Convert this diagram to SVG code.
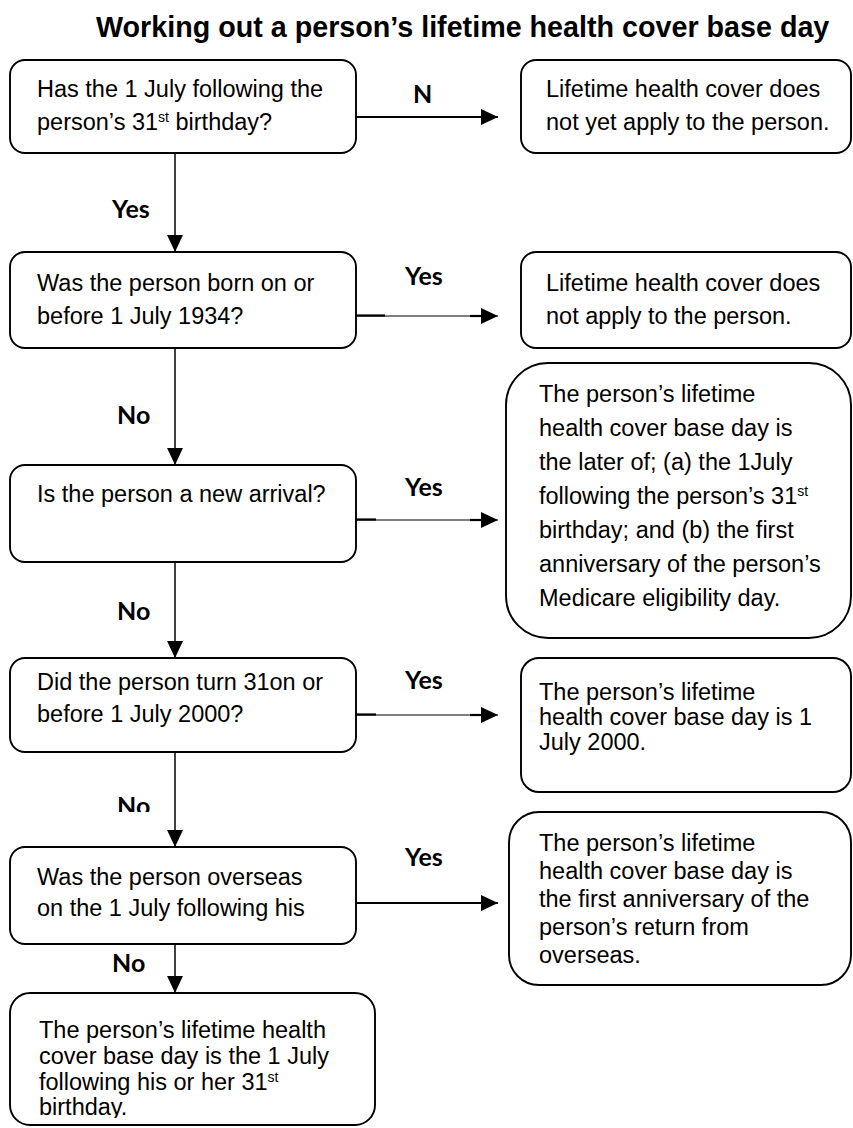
<svg xmlns="http://www.w3.org/2000/svg" width="853" height="1128" viewBox="0 0 853 1128">
<defs>
<style>
.box{fill:#fff;stroke:#000;stroke-width:1.9}
.t{font-family:"Liberation Sans",Arial,sans-serif;font-size:23.5px;fill:#000}
.sup{font-size:14px}
.lbl{font-family:Lato,"Open Sans",sans-serif;font-weight:bold;font-size:25px;fill:#000}
.title{font-family:"Liberation Sans",Arial,sans-serif;font-weight:bold;font-size:28.7px;fill:#000}
.c{stroke:#000;stroke-width:1.5;fill:none}
.thin{stroke:#000;stroke-width:1.2;fill:none}
.stub{stroke:#000;stroke-width:2.2;fill:none}
.thick{stroke:#000;stroke-width:2;fill:none}
</style>
<marker id="ah" markerUnits="userSpaceOnUse" markerWidth="17" markerHeight="17" viewBox="0 0 16 15" refX="16" refY="7.5" orient="auto"><path d="M0,0 L16,7.5 L0,15 Z" fill="#000"/></marker>
<clipPath id="clipBottom"><rect x="0" y="980" width="400" height="138"/></clipPath>
<clipPath id="clipNo"><rect x="100" y="780" width="60" height="32"/></clipPath>
</defs>
<rect width="853" height="1128" fill="#fff"/>
<text class="title" x="96" y="37">Working out a person’s lifetime health cover base day</text>

<g id="connectors">
<line class="thick" x1="356" y1="117" x2="498" y2="117" marker-end="url(#ah)"/>
<line class="c" x1="175" y1="153" x2="175" y2="252" marker-end="url(#ah)"/>
<line class="thin" x1="356" y1="316" x2="498" y2="316" marker-end="url(#ah)"/>
<line class="stub" x1="356" y1="315.5" x2="385" y2="315.5"/>
<line class="stub" x1="470" y1="316" x2="485" y2="316"/>
<line class="c" x1="175" y1="348" x2="175" y2="465" marker-end="url(#ah)"/>
<line class="thin" x1="356" y1="520" x2="498" y2="520" marker-end="url(#ah)"/>
<line class="stub" x1="356" y1="519.5" x2="376" y2="519.5"/>
<line class="stub" x1="470" y1="520" x2="485" y2="520"/>
<line class="c" x1="175" y1="562" x2="175" y2="658" marker-end="url(#ah)"/>
<line class="thin" x1="356" y1="715" x2="498" y2="715" marker-end="url(#ah)"/>
<line class="stub" x1="356" y1="714.5" x2="376" y2="714.5"/>
<line class="stub" x1="470" y1="715" x2="485" y2="715"/>
<line class="c" x1="175" y1="752" x2="175" y2="847" marker-end="url(#ah)"/>
<line class="thick" x1="356" y1="903" x2="498" y2="903" marker-end="url(#ah)"/>
<line class="c" x1="175" y1="944" x2="175" y2="993" marker-end="url(#ah)"/>
<text class="lbl" x="413" y="103">N</text>
<text class="lbl" x="112" y="218">Yes</text>
<text class="lbl" x="405" y="285">Yes</text>
<text class="lbl" x="117" y="424">No</text>
<text class="lbl" x="405" y="496">Yes</text>
<text class="lbl" x="117" y="620">No</text>
<text class="lbl" x="405" y="689">Yes</text>
<g clip-path="url(#clipNo)"><text class="lbl" x="117" y="815">No</text></g>
<text class="lbl" x="405" y="866">Yes</text>
<text class="lbl" x="112" y="972">No</text>
</g>

<g id="q1">
<rect class="box" x="10" y="60" width="346" height="93" rx="15"/>
<text class="t" x="37" y="97">Has the 1 July following the</text>
<text class="t" x="37" y="130">person’s 31<tspan class="sup" dy="-8">st</tspan><tspan dy="8"> birthday?</tspan></text>
</g>
<g id="r1">
<rect class="box" x="521" y="60" width="330" height="93" rx="15"/>
<text class="t" x="546" y="97">Lifetime health cover does</text>
<text class="t" x="546" y="130">not yet apply to the person.</text>
</g>

<g id="q2">
<rect class="box" x="10" y="252" width="346" height="96" rx="15"/>
<text class="t" x="37" y="291">Was the person born on or</text>
<text class="t" x="37" y="324">before 1 July 1934?</text>
</g>
<g id="r2">
<rect class="box" x="521" y="252" width="330" height="96" rx="15"/>
<text class="t" x="546" y="291">Lifetime health cover does</text>
<text class="t" x="546" y="324">not apply to the person.</text>
</g>

<g id="q3">
<rect class="box" x="10" y="465" width="346" height="97" rx="15"/>
<text class="t" x="37" y="502">Is the person a new arrival?</text>
</g>
<g id="r3">
<rect class="box" x="506" y="363" width="345" height="275" rx="42"/>
<text class="t" x="539" y="402">The person’s lifetime</text>
<text class="t" x="539" y="436">health cover base day is</text>
<text class="t" x="539" y="470">the later of; (a) the 1July</text>
<text class="t" x="539" y="504">following the person’s 31<tspan class="sup" dy="-8">st</tspan></text>
<text class="t" x="539" y="538">birthday; and (b) the first</text>
<text class="t" x="539" y="572">anniversary of the person’s</text>
<text class="t" x="539" y="606">Medicare eligibility day.</text>
</g>

<g id="q4">
<rect class="box" x="10" y="658" width="346" height="94" rx="15"/>
<text class="t" x="37" y="690">Did the person turn 31on or</text>
<text class="t" x="37" y="722">before 1 July 2000?</text>
</g>
<g id="r4">
<rect class="box" x="521" y="658" width="330" height="134" rx="18"/>
<text class="t" x="539" y="700">The person’s lifetime</text>
<text class="t" x="539" y="725">health cover base day is 1</text>
<text class="t" x="539" y="750">July 2000.</text>
</g>

<g id="q5">
<rect class="box" x="10" y="847" width="346" height="97" rx="15"/>
<text class="t" x="37" y="885">Was the person overseas</text>
<text class="t" x="37" y="916">on the 1 July following his</text>
</g>
<g id="r5">
<rect class="box" x="509" y="812" width="342" height="173" rx="30"/>
<text class="t" x="539" y="851">The person’s lifetime</text>
<text class="t" x="539" y="879">health cover base day is</text>
<text class="t" x="539" y="907">the first anniversary of the</text>
<text class="t" x="539" y="935">person’s return from</text>
<text class="t" x="539" y="963">overseas.</text>
</g>

<g id="end">
<rect class="box" x="10" y="993" width="365" height="132" rx="20"/>
<g clip-path="url(#clipBottom)">
<text class="t" x="39" y="1038">The person’s lifetime health</text>
<text class="t" x="39" y="1064">cover base day is the 1 July</text>
<text class="t" x="39" y="1090">following his or her 31<tspan class="sup" dy="-8">st</tspan></text>
<text class="t" x="39" y="1115">birthday.</text>
</g>
</g>
</svg>
